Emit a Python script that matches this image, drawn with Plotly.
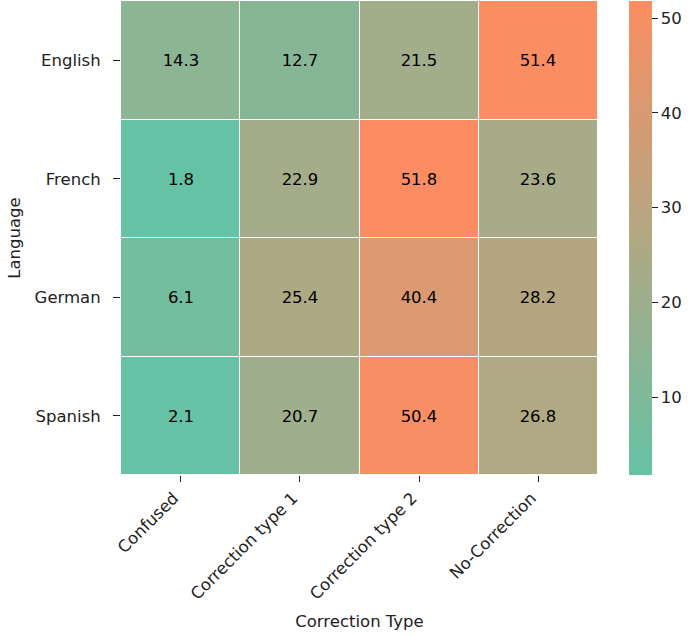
import plotly.graph_objects as go

languages = ["English", "French", "German", "Spanish"]
correction_types = ["Confused", "Correction type 1", "Correction type 2", "No-Correction"]
values = [
    [14.3, 12.7, 21.5, 51.4],
    [1.8, 22.9, 51.8, 23.6],
    [6.1, 25.4, 40.4, 28.2],
    [2.1, 20.7, 50.4, 26.8],
]
colorbar_ticks = [10, 20, 30, 40, 50]

font_family = "DejaVu Sans"
fs = 16.5

fig = go.Figure(
    go.Heatmap(
        z=values,
        x=correction_types,
        y=languages,
        colorscale=[[0, "#66c2a5"], [1, "#fc8d62"]],
        xgap=1,
        ygap=1,
        texttemplate="%{z:.1f}",
        textfont=dict(family=font_family, size=fs, color="black"),
        hoverinfo="skip",
        colorbar=dict(
            thickness=23,
            len=1,
            lenmode="fraction",
            y=0,
            yanchor="bottom",
            x=1.064,
            xanchor="left",
            xpad=0,
            ypad=0,
            outlinewidth=0,
            tickvals=colorbar_ticks,
            tickprefix="\u00a0\u00a0",
            ticks="outside",
            ticklen=6,
            tickwidth=1.3,
            tickcolor="#222",
            tickfont=dict(family=font_family, size=fs, color="#222"),
        ),
    )
)

fig.update_layout(
    width=690,
    height=636,
    margin=dict(l=121, r=92, t=1, b=161, autoexpand=False),
    paper_bgcolor="white",
    plot_bgcolor="white",
    font=dict(family=font_family, size=fs, color="#222"),
    xaxis=dict(
        title=dict(text="Correction Type", font=dict(size=fs), standoff=12),
        tickangle=-45,
        ticks="outside",
        ticklen=6,
        tickwidth=1.3,
        tickcolor="#222",
        ticklabelshift=-7,
        showgrid=False,
        zeroline=False,
        automargin=False,
        tickfont=dict(size=fs),
    ),
    yaxis=dict(
        title=dict(text="Language", font=dict(size=fs), standoff=9),
        autorange="reversed",
        ticks="outside",
        ticklen=7,
        tickwidth=1.3,
        tickcolor="#222",
        ticklabelstandoff=9,
        showgrid=False,
        zeroline=False,
        automargin=False,
        tickfont=dict(size=fs),
    ),
)

fig.write_html(
    "out.html",
    config={"displayModeBar": False},
    post_script="document.body.style.margin='0';document.body.style.overflow='hidden';",
)
